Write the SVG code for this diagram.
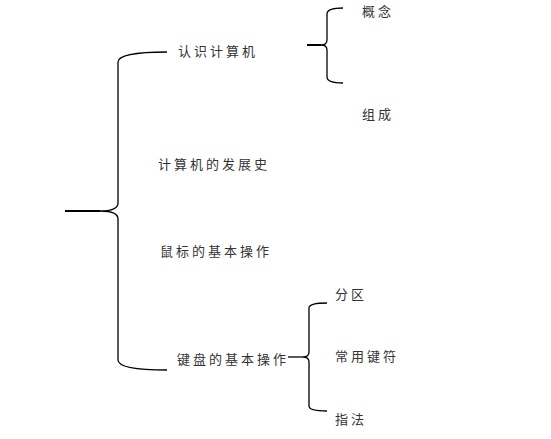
<svg xmlns="http://www.w3.org/2000/svg" width="551" height="439" viewBox="0 0 551 439">
<style>
.t{font-family:"Noto Sans CJK SC","Noto Sans",sans-serif;font-size:13px;letter-spacing:3px;fill:#333;dominant-baseline:central}
.b{fill:none;stroke:#000;stroke-width:1.3}
.s{fill:none;stroke:#000;stroke-width:2}
</style>
<rect width="551" height="439" fill="#fff"/>
<g id="connectors">
<path class="b" d="M167,52 Q118,52 118,62 L118,203 Q118,211 100,211 Q118,211 118,219 L118,360 Q118,370 167,370"/>
<path class="s" d="M65,211 L100,211"/>
<path class="b" d="M343,8 Q327,8 327,14 L327,40 Q327,45 321,45 Q327,45 327,50 L327,77 Q327,83 343,83"/>
<path class="s" d="M307,45 L321,45"/>
<path class="b" d="M327,303 Q309,303 309,308 L309,352 Q309,357 303,357 Q309,357 309,362 L309,406 Q309,411 327,411"/>
<path class="b" d="M288,357 L303,357"/>
</g>
<g id="n1"><text class="t" x="178" y="50">认识计算机</text></g>
<g id="n2"><text class="t" x="158" y="163">计算机的发展史</text></g>
<g id="n3"><text class="t" x="160" y="250">鼠标的基本操作</text></g>
<g id="n4"><text class="t" x="177" y="358">键盘的基本操作</text></g>
<g id="n5"><text class="t" x="362" y="10">概念</text></g>
<g id="n6"><text class="t" x="362" y="113">组成</text></g>
<g id="n7"><text class="t" x="335" y="293">分区</text></g>
<g id="n8"><text class="t" x="335" y="355">常用键符</text></g>
<g id="n9"><text class="t" x="335" y="418">指法</text></g>
</svg>
